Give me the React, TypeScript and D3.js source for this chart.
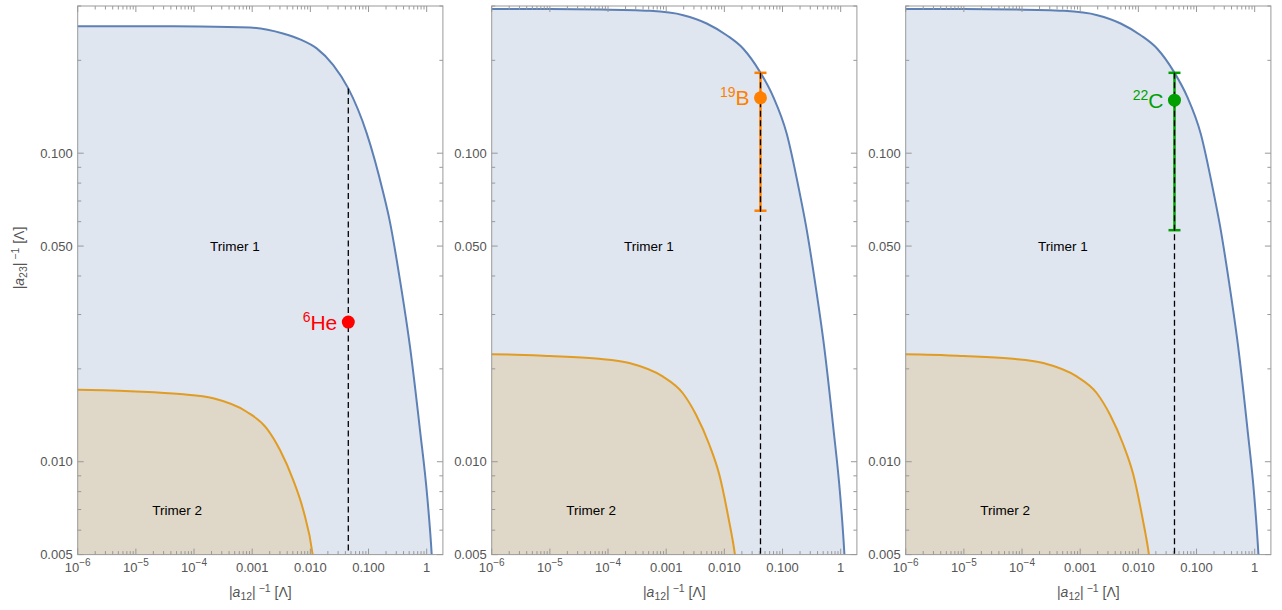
import React from 'react';
import * as d3 from 'd3';

// ---------- data ----------
const xTickValues = [1e-6, 1e-5, 1e-4, 1e-3, 1e-2, 1e-1, 1];
const xTickBase = ['10', '10', '10', '0.001', '0.010', '0.100', '1'];
const xTickExp = ['−6', '−5', '−4', '', '', '', ''];
const yTickValues = [0.005, 0.01, 0.05, 0.1];
const yTickLabels = ['0.005', '0.010', '0.050', '0.100'];

// Trimer 1 boundary (blue), panel 1
const blueCurve1: [number, number][] = [
  [5e-7, 0.258], [1e-6, 0.258], [1e-5, 0.258], [1.26e-4, 0.2575], [9.2e-4, 0.2556],
  [3.38e-3, 0.2444], [6.64e-3, 0.2338], [0.01285, 0.2186], [0.02477, 0.193],
  [0.04487, 0.1622], [0.0929, 0.1162], [0.1795, 0.0743], [0.23, 0.0607],
  [0.3475, 0.0388], [0.5164, 0.0236], [0.767, 0.01267], [1.023, 0.0077],
  [1.22, 0.005], [1.3, 0.004],
];
// Trimer 2 boundary (orange), panel 1
const orangeCurve1: [number, number][] = [
  [5e-7, 0.0171], [1e-6, 0.0171], [1e-5, 0.0169], [5.74e-5, 0.01657], [2.14e-4, 0.01605],
  [8.03e-4, 0.01452], [1.774e-3, 0.01283], [3.006e-3, 0.01091], [5.08e-3, 0.00872],
  [7.55e-3, 0.00697], [0.01096, 0.005], [0.0122, 0.0042],
];
// Trimer 1 boundary (blue), panels 2 and 3
const blueCurve23: [number, number][] = [
  [5e-7, 0.2935], [1e-6, 0.2935], [1e-5, 0.2932], [7.28e-5, 0.2924], [5.26e-4, 0.2893],
  [1.968e-3, 0.2801], [4.97e-3, 0.2633], [0.01096, 0.2412], [0.02113, 0.2181],
  [0.04093, 0.1835], [0.0693, 0.1523], [0.1178, 0.1159], [0.1995, 0.0735],
  [0.25, 0.059], [0.36, 0.0385], [0.52, 0.0236], [0.75, 0.0128], [0.98, 0.0078],
  [1.16, 0.005], [1.25, 0.0038],
];
// Trimer 2 boundary (orange), panels 2 and 3
const orangeCurve23: [number, number][] = [
  [5e-7, 0.0223], [1e-6, 0.0223], [1e-5, 0.022], [6.2e-5, 0.0216], [2.32e-4, 0.0209],
  [8.7e-4, 0.0189], [1.92e-3, 0.0167], [3.26e-3, 0.0142], [5.5e-3, 0.01137],
  [8.18e-3, 0.00909], [0.01187, 0.00652], [0.0152, 0.005], [0.0168, 0.0043],
];

const massNumbers = ['6', '19', '22'];
const symbols = ['He', 'B', 'C'];
const pointX = [0.0449, 0.0418, 0.0418];
const pointY = [0.02836, 0.1512, 0.1486];
const errLow: (number | null)[] = [null, 0.0651, 0.0563];
const errHigh: (number | null)[] = [null, 0.1822, 0.1822];
const dashTop = [0.1622, 0.1822, 0.1822];
const trimer1Pos: [number, number] = [5.06e-4, 0.05];
const trimer2Pos: [number, number] = [5.1e-5, 0.00697];

// ---------- layout & style ----------
const W = 1282;
const H = 610;
const panelLefts = [77.7, 491.7, 905.7];
const panelWidth = 365.2;
const top = 6;
const bottom = 554.6;
const xDomain: [number, number] = [1e-6, 1.9];
const yDomain: [number, number] = [0.005, 0.3];

const BLUE = '#5e81b5';
const ORANGE = '#e19c24';
const pointColors = ['#ff0000', '#ff8000', '#00a000'];
const FRAME = '#999999';
const TICKTEXT = '#555555';
const FONT = '"Liberation Sans", Arial, sans-serif';

const curvesBlue = [blueCurve1, blueCurve23, blueCurve23];
const curvesOrange = [orangeCurve1, orangeCurve23, orangeCurve23];

function isMajor(v: number, majors: number[]) {
  return majors.some((m) => Math.abs(v - m) / m < 1e-6);
}

function AxisTitle({ sub }: { sub: string }) {
  return (
    <>
      |<tspan fontStyle="italic">a</tspan>
      <tspan fontSize={10.5} dy={3}>{sub}</tspan>
      <tspan dy={-3}>|</tspan>
      <tspan fontSize={10.5} dy={-5.5}> −1</tspan>
      <tspan dy={5.5}> [Λ]</tspan>
    </>
  );
}

function Panel({ i }: { i: number }) {
  const left = panelLefts[i];
  const right = left + panelWidth;
  const xs = d3.scaleLog().domain(xDomain).range([left, right]);
  const ys = d3.scaleLog().domain(yDomain).range([bottom, top]);
  const line = d3
    .line<[number, number]>()
    .x((d) => xs(d[0]))
    .y((d) => ys(d[1]))
    .curve(d3.curveMonotoneX);
  const area = d3
    .area<[number, number]>()
    .x((d) => xs(d[0]))
    .y0(bottom)
    .y1((d) => ys(d[1]))
    .curve(d3.curveMonotoneX);
  const clipId = `clip${i}`;
  const xt = xs.ticks();
  const yt = ys.ticks();
  const px = xs(pointX[i]);
  const py = ys(pointY[i]);
  const col = pointColors[i];
  const lo = errLow[i];
  const hi = errHigh[i];
  return (
    <g>
      <defs>
        <clipPath id={clipId}>
          <rect x={left} y={top} width={panelWidth} height={bottom - top} />
        </clipPath>
      </defs>
      <g clipPath={`url(#${clipId})`}>
        <path d={area(curvesBlue[i]) || ''} fill={BLUE} fillOpacity={0.2} />
        <path d={area(curvesOrange[i]) || ''} fill={ORANGE} fillOpacity={0.2} />
        <path d={line(curvesBlue[i]) || ''} fill="none" stroke={BLUE} strokeWidth={2} />
        <path d={line(curvesOrange[i]) || ''} fill="none" stroke={ORANGE} strokeWidth={2} />
      </g>
      <text x={xs(trimer1Pos[0])} y={ys(trimer1Pos[1]) + 5} textAnchor="middle" fontSize={13.5} fontFamily={FONT} fill="#000">
        Trimer 1
      </text>
      <text x={xs(trimer2Pos[0])} y={ys(trimer2Pos[1]) + 5} textAnchor="middle" fontSize={13.5} fontFamily={FONT} fill="#000">
        Trimer 2
      </text>
      {lo !== null && hi !== null && (
        <g stroke={col} strokeWidth={2.5}>
          <line x1={px} x2={px} y1={ys(hi)} y2={ys(lo)} />
          <line x1={px - 6} x2={px + 6} y1={ys(hi)} y2={ys(hi)} />
          <line x1={px - 6} x2={px + 6} y1={ys(lo)} y2={ys(lo)} />
        </g>
      )}
      <line x1={px} x2={px} y1={ys(dashTop[i])} y2={bottom} stroke="#000" strokeWidth={1.3} strokeDasharray="6,3.5" />
      <circle cx={px} cy={py} r={6.5} fill={col} />
      <text x={px - 11} y={py + 7.5} textAnchor="end" fontFamily={FONT} fill={col} fontSize={21}>
        <tspan fontSize={14} dy={-8}>{massNumbers[i]}</tspan>
        <tspan dy={8}>{symbols[i]}</tspan>
      </text>
      {/* frame */}
      <rect x={left} y={top} width={panelWidth} height={bottom - top} fill="none" stroke={FRAME} strokeWidth={1} />
      {xt.map((v, k) => {
        const x = xs(v);
        const len = isMajor(v, xTickValues) ? 6 : 3.5;
        return (
          <g key={`xt${k}`} stroke={FRAME} strokeWidth={1}>
            <line x1={x} x2={x} y1={bottom} y2={bottom - len} />
            <line x1={x} x2={x} y1={top} y2={top + len} />
          </g>
        );
      })}
      {yt.map((v, k) => {
        const y = ys(v);
        const len = isMajor(v, yTickValues) ? 6 : 3.5;
        return (
          <g key={`yt${k}`} stroke={FRAME} strokeWidth={1}>
            <line x1={left} x2={left + len} y1={y} y2={y} />
            <line x1={right} x2={right - len} y1={y} y2={y} />
          </g>
        );
      })}
      {xTickValues.map((v, k) => (
        <text key={`xl${k}`} x={xs(v)} y={571.5} textAnchor="middle" fontSize={13} fontFamily={FONT} fill={TICKTEXT}>
          {xTickBase[k]}
          {xTickExp[k] && (
            <tspan fontSize={10} dy={-5.5}>
              {xTickExp[k]}
            </tspan>
          )}
        </text>
      ))}
      {yTickValues.map((v, k) => (
        <text key={`yl${k}`} x={left - 5} y={ys(v) + 4.5} textAnchor="end" fontSize={13} fontFamily={FONT} fill={TICKTEXT}>
          {yTickLabels[k]}
        </text>
      ))}
      <text x={(left + right) / 2} y={597} textAnchor="middle" fontSize={14} fontFamily={FONT} fill={TICKTEXT}>
        <AxisTitle sub="12" />
      </text>
    </g>
  );
}

export default function App() {
  return (
    <svg width={W} height={H} style={{ position: 'absolute', left: 0, top: 0, display: 'block', background: '#fff' }}>
      <rect x={0} y={0} width={W} height={H} fill="#fff" />
      {[0, 1, 2].map((i) => (
        <Panel key={i} i={i} />
      ))}
      <text transform="translate(24,258) rotate(-90)" textAnchor="middle" fontSize={14} fontFamily={FONT} fill={TICKTEXT}>
        <AxisTitle sub="23" />
      </text>
    </svg>
  );
}
